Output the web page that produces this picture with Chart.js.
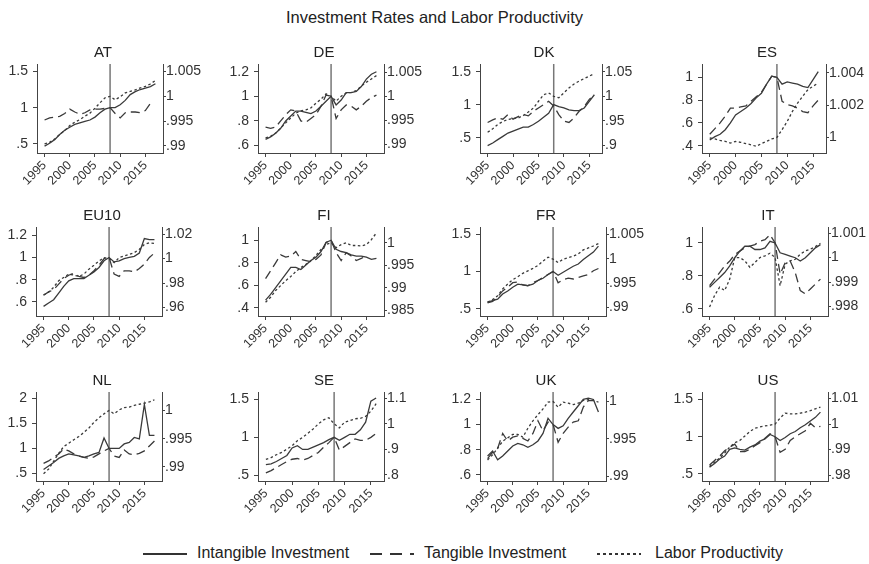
<!DOCTYPE html>
<html>
<head>
<meta charset="utf-8">
<script src="https://cdn.jsdelivr.net/npm/chart.js@4.4.1/dist/chart.umd.min.js"></script>
<style>
  body { margin: 0; background: #fff; width: 869px; height: 564px; position: relative; overflow: hidden;
         font-family: "Liberation Sans", Arial, sans-serif; color: #222; }
  #title { position: absolute; top: 8px; left: 0; width: 869px; text-align: center; font-size: 16.5px; }
  .lg { position: absolute; top: 544px; font-size: 16px; white-space: nowrap; }
  .lgline { position: absolute; top: 553px; height: 2px; }
  canvas { position: absolute; }
</style>
</head>
<body>
<div id="title">Investment Rates and Labor Productivity</div>

<svg class="lgline" style="left:143px;width:44px;" width="44" height="2"><line x1="0" y1="1" x2="44" y2="1" stroke="#333" stroke-width="2"/></svg>
<span class="lg" style="left:197px;">Intangible Investment</span>
<svg class="lgline" style="left:370px;width:44px;" width="44" height="2"><line x1="0" y1="1" x2="44" y2="1" stroke="#333" stroke-width="2" stroke-dasharray="12,8"/></svg>
<span class="lg" style="left:424px;">Tangible Investment</span>
<svg class="lgline" style="left:597px;width:44px;" width="44" height="2"><line x1="0" y1="1" x2="44" y2="1" stroke="#333" stroke-width="2" stroke-dasharray="3,3"/></svg>
<span class="lg" style="left:655px;">Labor Productivity</span>

<script>
// --- data (2008 = 1) ---
const years = [1995, 1996, 1997, 1998, 1999, 2000, 2001, 2002, 2003, 2004, 2005, 2006,
               2007, 2008, 2009, 2010, 2011, 2012, 2013, 2014, 2015, 2016, 2017];
const xTicks = [1995, 2000, 2005, 2010, 2015];
const crisisYear = 2008;

const intangible_AT = [0.47,0.51,0.56,0.63,0.69,0.73,0.77,0.79,0.81,0.83,0.87,0.93,0.98,1.00,1.00,1.04,1.10,1.18,1.22,1.25,1.27,1.29,1.33];
const tangible_AT = [0.83,0.86,0.87,0.88,0.92,0.98,0.94,0.91,0.93,0.97,0.98,0.98,0.99,1.00,0.92,0.86,0.93,0.94,0.94,0.93,0.96,1.06,null];
const productivity_AT = [0.9904,0.9907,0.9914,0.9923,0.9931,0.9941,0.9948,0.9953,0.9960,0.9966,0.9976,0.9987,0.9997,1.0000,0.9993,0.9999,1.0007,1.0010,1.0013,1.0017,1.0020,1.0025,1.0032];
const leftTicks_AT = [0.5, 1, 1.5];
const rightTicks_AT = [0.99, 0.995, 1, 1.005];

const intangible_DE = [0.65,0.67,0.70,0.74,0.80,0.84,0.88,0.88,0.87,0.86,0.88,0.92,0.96,1.00,0.93,0.97,1.03,1.03,1.04,1.08,1.14,1.18,1.20];
const tangible_DE = [0.75,0.74,0.75,0.80,0.85,0.89,0.88,0.80,0.79,0.82,0.85,0.92,1.01,1.00,0.82,0.89,0.93,0.92,0.89,0.92,0.96,0.99,1.01];
const productivity_DE = [0.9914,0.9917,0.9924,0.9934,0.9945,0.9955,0.9965,0.9970,0.9972,0.9976,0.9986,0.9994,1.0005,1.0000,0.9990,1.0000,1.0007,1.0008,1.0012,1.0021,1.0029,1.0036,1.0043];
const leftTicks_DE = [0.6, 0.8, 1, 1.2];
const rightTicks_DE = [0.99, 0.995, 1, 1.005];

const intangible_DK = [0.38,0.42,0.47,0.52,0.57,0.60,0.63,0.66,0.66,0.70,0.75,0.81,0.87,1.00,0.97,0.95,0.92,0.91,0.91,0.95,1.05,1.15,null];
const tangible_DK = [0.73,0.77,0.80,0.78,0.85,0.78,0.82,0.85,0.83,0.90,0.95,1.00,1.05,0.98,0.85,0.75,0.73,0.80,0.90,0.97,1.08,1.15,null];
const productivity_DK = [0.927,0.934,0.943,0.949,0.953,0.955,0.956,0.961,0.968,0.976,0.990,1.003,1.007,1.000,0.997,1.007,1.017,1.025,1.031,1.036,1.041,1.046,null];
const leftTicks_DK = [0.5, 1, 1.5];
const rightTicks_DK = [0.9, 0.95, 1, 1.05];

const intangible_ES = [0.45,0.48,0.50,0.54,0.60,0.67,0.70,0.73,0.77,0.82,0.86,0.94,1.01,1.00,0.94,0.96,0.95,0.94,0.92,0.91,0.98,1.05,null];
const tangible_ES = [0.50,0.55,0.60,0.66,0.73,0.73,0.74,0.75,0.79,0.83,0.87,0.94,1.01,1.00,0.79,0.76,0.75,0.73,0.70,0.69,0.75,0.80,null];
const productivity_ES = [0.99996,0.9999,0.99981,0.99975,0.99965,0.99975,0.99969,0.99961,0.99954,0.99944,0.99961,0.99975,0.9999,1.0,1.00048,1.00099,1.00161,1.00213,1.00255,1.00296,1.00317,1.00337,null];
const leftTicks_ES = [0.4, 0.6, 0.8, 1];
const rightTicks_ES = [1, 1.002, 1.004];

const intangible_EU10 = [0.56,0.59,0.62,0.68,0.74,0.79,0.81,0.81,0.81,0.84,0.87,0.91,0.97,1.00,0.96,0.97,0.99,1.00,1.01,1.04,1.17,1.16,1.16];
const tangible_EU10 = [0.66,0.69,0.71,0.76,0.81,0.84,0.86,0.83,0.82,0.84,0.88,0.93,0.99,1.00,0.85,0.83,0.88,0.88,0.87,0.90,0.94,1.00,1.04];
const productivity_EU10 = [0.9703,0.9725,0.9765,0.9819,0.9846,0.9873,0.9865,0.9854,0.9873,0.9914,0.9946,0.9981,1.0008,1.0000,0.9968,1.0008,1.0022,1.0035,1.0049,1.0076,1.0116,1.0130,1.0124];
const leftTicks_EU10 = [0.6, 0.8, 1, 1.2];
const rightTicks_EU10 = [0.96, 0.98, 1, 1.02];

const intangible_FI = [0.47,0.52,0.58,0.64,0.70,0.76,0.76,0.74,0.78,0.82,0.85,0.90,0.98,1.00,0.92,0.90,0.89,0.87,0.86,0.86,0.85,0.83,0.84];
const tangible_FI = [0.66,0.73,0.80,0.87,0.85,0.86,0.90,0.83,0.82,0.81,0.83,0.87,0.98,1.00,0.89,0.82,0.89,0.86,0.82,0.84,0.86,null,null];
const productivity_FI = [0.9868,0.9879,0.9894,0.9905,0.9916,0.9925,0.9936,0.9945,0.9952,0.9960,0.9972,0.9985,0.9996,1.0000,0.9989,0.9996,1.0000,0.9994,0.9994,0.9993,0.9996,1.0007,1.0022];
const leftTicks_FI = [0.4, 0.6, 0.8, 1];
const rightTicks_FI = [0.985, 0.99, 0.995, 1];

const intangible_FR = [0.59,0.61,0.63,0.70,0.74,0.79,0.83,0.82,0.81,0.83,0.88,0.91,0.96,1.00,0.95,0.99,1.03,1.07,1.10,1.16,1.21,1.26,1.34];
const tangible_FR = [0.58,0.60,0.66,0.74,0.79,0.85,0.86,0.82,0.81,0.85,0.88,0.92,0.96,1.00,0.85,0.89,0.91,0.90,0.92,0.94,0.96,1.01,1.04];
const productivity_FR = [0.9911,0.9916,0.9924,0.9938,0.9948,0.9957,0.9963,0.9970,0.9975,0.9980,0.9986,0.9995,1.0003,0.9999,0.9992,0.9999,1.0002,1.0005,1.0010,1.0018,1.0022,1.0026,1.0031];
const leftTicks_FR = [0.5, 1, 1.5];
const rightTicks_FR = [0.99, 0.995, 1, 1.005];

const intangible_IT = [0.73,0.76,0.79,0.82,0.86,0.91,0.95,0.98,0.98,0.96,0.96,0.97,1.01,1.00,0.94,0.93,0.92,0.91,0.89,0.91,0.94,0.97,0.99];
const tangible_IT = [0.74,0.78,0.82,0.86,0.89,0.93,0.95,0.97,0.98,0.99,1.01,1.02,1.05,1.00,0.81,0.88,0.89,0.82,0.71,0.69,0.72,0.75,0.78];
const productivity_IT = [0.99798,0.99845,0.99879,0.99865,0.99912,1.0,1.0,0.99987,0.9996,0.9998,1.0,1.00007,1.00018,1.0,0.99885,0.99973,0.99987,0.99993,1.00014,1.00027,1.00034,1.00045,1.00058];
const leftTicks_IT = [0.6, 0.8, 1];
const rightTicks_IT = [0.998, 0.999, 1, 1.001];

const intangible_NL = [0.58,0.65,0.72,0.80,0.85,0.89,0.87,0.85,0.82,0.85,0.89,0.92,1.21,1.00,1.00,1.00,1.09,1.12,1.22,1.19,1.88,1.26,1.26];
const tangible_NL = [0.70,0.75,0.82,0.89,0.99,0.95,0.89,0.85,0.82,0.80,0.83,0.89,0.95,1.00,0.85,0.82,0.97,0.89,0.87,0.90,0.95,1.05,1.15];
const productivity_NL = [0.9888,0.9896,0.9910,0.9924,0.9936,0.9942,0.9948,0.9954,0.9961,0.9969,0.9979,0.9987,0.9994,1.0000,0.9994,1.0001,1.0005,1.0006,1.0009,1.0011,1.0013,1.0015,1.0019];
const leftTicks_NL = [0.5, 1, 1.5, 2];
const rightTicks_NL = [0.99, 0.995, 1];

const intangible_SE = [0.64,0.65,0.68,0.72,0.76,0.86,0.89,0.84,0.84,0.87,0.90,0.93,0.97,1.00,0.96,1.00,1.04,1.04,1.10,1.20,1.48,1.52,null];
const tangible_SE = [0.53,0.56,0.60,0.64,0.68,0.71,0.72,0.70,0.72,0.76,0.80,0.87,0.93,1.00,0.83,0.88,0.93,0.98,0.96,0.96,1.00,1.05,null];
const productivity_SE = [0.861,0.868,0.879,0.888,0.901,0.914,0.934,0.947,0.963,0.980,1.000,1.016,1.024,1.000,0.984,1.007,1.013,1.020,1.022,1.029,1.050,1.079,null];
const leftTicks_SE = [0.5, 1, 1.5];
const rightTicks_SE = [0.8, 0.9, 1, 1.1];

const intangible_UK = [0.75,0.79,0.72,0.75,0.79,0.83,0.85,0.84,0.82,0.84,0.87,0.93,1.05,1.00,0.97,0.99,1.05,1.10,1.15,1.20,1.21,1.20,1.10];
const tangible_UK = [0.73,0.78,0.81,0.93,0.87,0.90,0.91,0.89,0.87,0.93,1.03,0.95,1.02,1.00,0.86,0.93,0.98,1.02,1.03,1.14,1.19,1.19,null];
const productivity_UK = [0.99217,0.99286,0.99377,0.99468,0.99513,0.99559,0.99559,0.99522,0.99641,0.99741,0.99823,0.999,0.99991,1.0,0.99923,0.99991,0.99977,0.99959,0.99977,1.00014,1.00023,1.00014,0.99991];
const leftTicks_UK = [0.6, 0.8, 1, 1.2];
const rightTicks_UK = [0.99, 0.995, 1];

const intangible_US = [0.59,0.64,0.70,0.74,0.83,0.85,0.83,0.82,0.86,0.89,0.94,0.97,1.03,1.00,0.95,0.99,1.04,1.07,1.12,1.16,1.21,1.26,1.33];
const tangible_US = [0.62,0.68,0.74,0.81,0.86,0.90,0.80,0.80,0.83,0.88,0.92,0.98,1.04,1.00,0.79,0.83,0.95,1.00,1.04,1.08,1.18,1.12,1.14];
const productivity_US = [0.9834,0.9851,0.9867,0.9887,0.9910,0.9927,0.9936,0.9953,0.9971,0.9984,0.9989,0.9993,0.9996,1.0000,1.0024,1.0043,1.0040,1.0040,1.0043,1.0047,1.0053,1.0060,1.0067];
const leftTicks_US = [0.5, 1, 1.5];
const rightTicks_US = [0.98, 0.99, 1, 1.01];

const panels = [
  ['AT', intangible_AT, tangible_AT, productivity_AT, leftTicks_AT, rightTicks_AT],
  ['DE', intangible_DE, tangible_DE, productivity_DE, leftTicks_DE, rightTicks_DE],
  ['DK', intangible_DK, tangible_DK, productivity_DK, leftTicks_DK, rightTicks_DK],
  ['ES', intangible_ES, tangible_ES, productivity_ES, leftTicks_ES, rightTicks_ES],
  ['EU10', intangible_EU10, tangible_EU10, productivity_EU10, leftTicks_EU10, rightTicks_EU10],
  ['FI', intangible_FI, tangible_FI, productivity_FI, leftTicks_FI, rightTicks_FI],
  ['FR', intangible_FR, tangible_FR, productivity_FR, leftTicks_FR, rightTicks_FR],
  ['IT', intangible_IT, tangible_IT, productivity_IT, leftTicks_IT, rightTicks_IT],
  ['NL', intangible_NL, tangible_NL, productivity_NL, leftTicks_NL, rightTicks_NL],
  ['SE', intangible_SE, tangible_SE, productivity_SE, leftTicks_SE, rightTicks_SE],
  ['UK', intangible_UK, tangible_UK, productivity_UK, leftTicks_UK, rightTicks_UK],
  ['US', intangible_US, tangible_US, productivity_US, leftTicks_US, rightTicks_US],
];

// axis bounds per panel: left min/max, right min/max, last x
const axisRanges = [
  [0.376, 1.601, 0.98856, 1.00653, 2018.5],
  [0.539, 1.263, 0.98825, 1.0067, 2018.5],
  [0.268, 1.616, 0.885, 1.0656, 2017.5],
  [0.336, 1.117, 0.99903, 1.00455, 2017.5],
  [0.4735, 1.274, 0.953, 1.0259, 2018.5],
  [0.329, 1.117, 0.98375, 1.0035, 2018.5],
  [0.405, 1.595, 0.98824, 1.0065, 2018.5],
  [0.5556, 1.097, 0.99761, 1.00125, 2018.5],
  [0.348, 2.13, 0.9875, 1.00327, 2018.5],
  [0.422, 1.6, 0.776, 1.125, 2017.5],
  [0.552, 1.259, 0.98935, 1.00127, 2018.5],
  [0.405, 1.601, 0.9777, 1.0126, 2018.5],
];

// plot-area boxes on the page: left, top, width
const plotBoxes = [
  [37, 64, 126], [258, 64, 126], [480, 64, 122], [702, 64, 124],
  [36, 227, 126], [258, 227, 126], [480, 227, 126], [702, 227, 126],
  [36, 392, 126], [258, 392, 126], [480, 392, 126], [702, 392, 126],
];

const FONT = '"Liberation Sans", Arial, sans-serif';
const AXIS = '#444';
const INK = '#3a3a3a';
const L = 44, R = 50, T = 23, B = 44, PH = 89;

// strip leading zero like ".995"
function fmt(v) {
  return String(+v.toFixed(4)).replace(/^0\./, '.');
}

const crisisLine = {
  id: 'crisisLine',
  beforeDatasetsDraw(chart) {
    const { ctx, chartArea: a, scales: { x } } = chart;
    const px = x.getPixelForValue(crisisYear);
    ctx.save();
    ctx.strokeStyle = '#777';
    ctx.lineWidth = 1.5;
    ctx.beginPath();
    ctx.moveTo(px, a.top);
    ctx.lineTo(px, a.bottom);
    ctx.stroke();
    ctx.restore();
  }
};

panels.forEach((p, i) => {
  const [name, intangible, tangible, productivity, leftTicks, rightTicks] = p;
  const [yMin, yMax, y2Min, y2Max, xMax] = axisRanges[i];
  const [x0, y0, w] = plotBoxes[i];

  const cv = document.createElement('canvas');
  cv.width = L + w + R;
  cv.height = T + PH + B;
  cv.style.left = (x0 - L) + 'px';
  cv.style.top = (y0 - T) + 'px';
  document.body.appendChild(cv);

  const pts = arr => years.map((yr, k) => ({ x: yr, y: arr[k] }));
  const xFont = { family: FONT, size: 12.5 };
  const yFont = { family: FONT, size: 14 };

  new Chart(cv, {
    type: 'line',
    data: {
      datasets: [
        { label: 'Intangible Investment', data: pts(intangible), yAxisID: 'y',
          borderColor: INK, borderWidth: 1.3 },
        { label: 'Tangible Investment', data: pts(tangible), yAxisID: 'y',
          borderColor: INK, borderWidth: 1.3, borderDash: [9, 5] },
        { label: 'Labor Productivity', data: pts(productivity), yAxisID: 'y1',
          borderColor: INK, borderWidth: 1.3, borderDash: [2.5, 2.5] }
      ]
    },
    options: {
      responsive: false,
      animation: false,
      devicePixelRatio: 1,
      elements: { point: { radius: 0 }, line: { tension: 0 } },
      layout: { padding: 0 },
      plugins: {
        legend: { display: false },
        tooltip: { enabled: false },
        title: { display: true, text: name, color: '#222',
                 font: { family: FONT, size: 15, weight: 'normal', lineHeight: '17px' },
                 padding: { top: 3, bottom: 3 } }
      },
      scales: {
        x: {
          type: 'linear', min: 1993.5, max: xMax,
          afterBuildTicks: s => { s.ticks = xTicks.map(v => ({ value: v })); },
          afterFit: s => { s.height = B; },
          grid: { drawOnChartArea: false, drawTicks: true, tickLength: 4, color: AXIS },
          border: { display: true, color: AXIS, width: 1 },
          ticks: { autoSkip: false, minRotation: 45, maxRotation: 45, padding: 1,
                   color: '#333', font: xFont, callback: v => String(v) }
        },
        y: {
          position: 'left', min: yMin, max: yMax,
          afterBuildTicks: s => { s.ticks = leftTicks.map(v => ({ value: v })); },
          afterFit: s => { s.width = L; },
          grid: { drawOnChartArea: false, drawTicks: true, tickLength: 4, color: AXIS },
          border: { display: true, color: AXIS, width: 1 },
          ticks: { padding: 5, color: '#333', font: yFont, callback: v => fmt(v) }
        },
        y1: {
          position: 'right', min: y2Min, max: y2Max,
          afterBuildTicks: s => { s.ticks = rightTicks.map(v => ({ value: v })); },
          afterFit: s => { s.width = R; },
          grid: { drawOnChartArea: false, drawTicks: true, tickLength: 3, color: AXIS },
          border: { display: true, color: AXIS, width: 1 },
          ticks: { padding: 0, color: '#333', font: yFont, callback: v => fmt(v) }
        }
      }
    },
    plugins: [crisisLine]
  });
});
</script>
</body>
</html>
